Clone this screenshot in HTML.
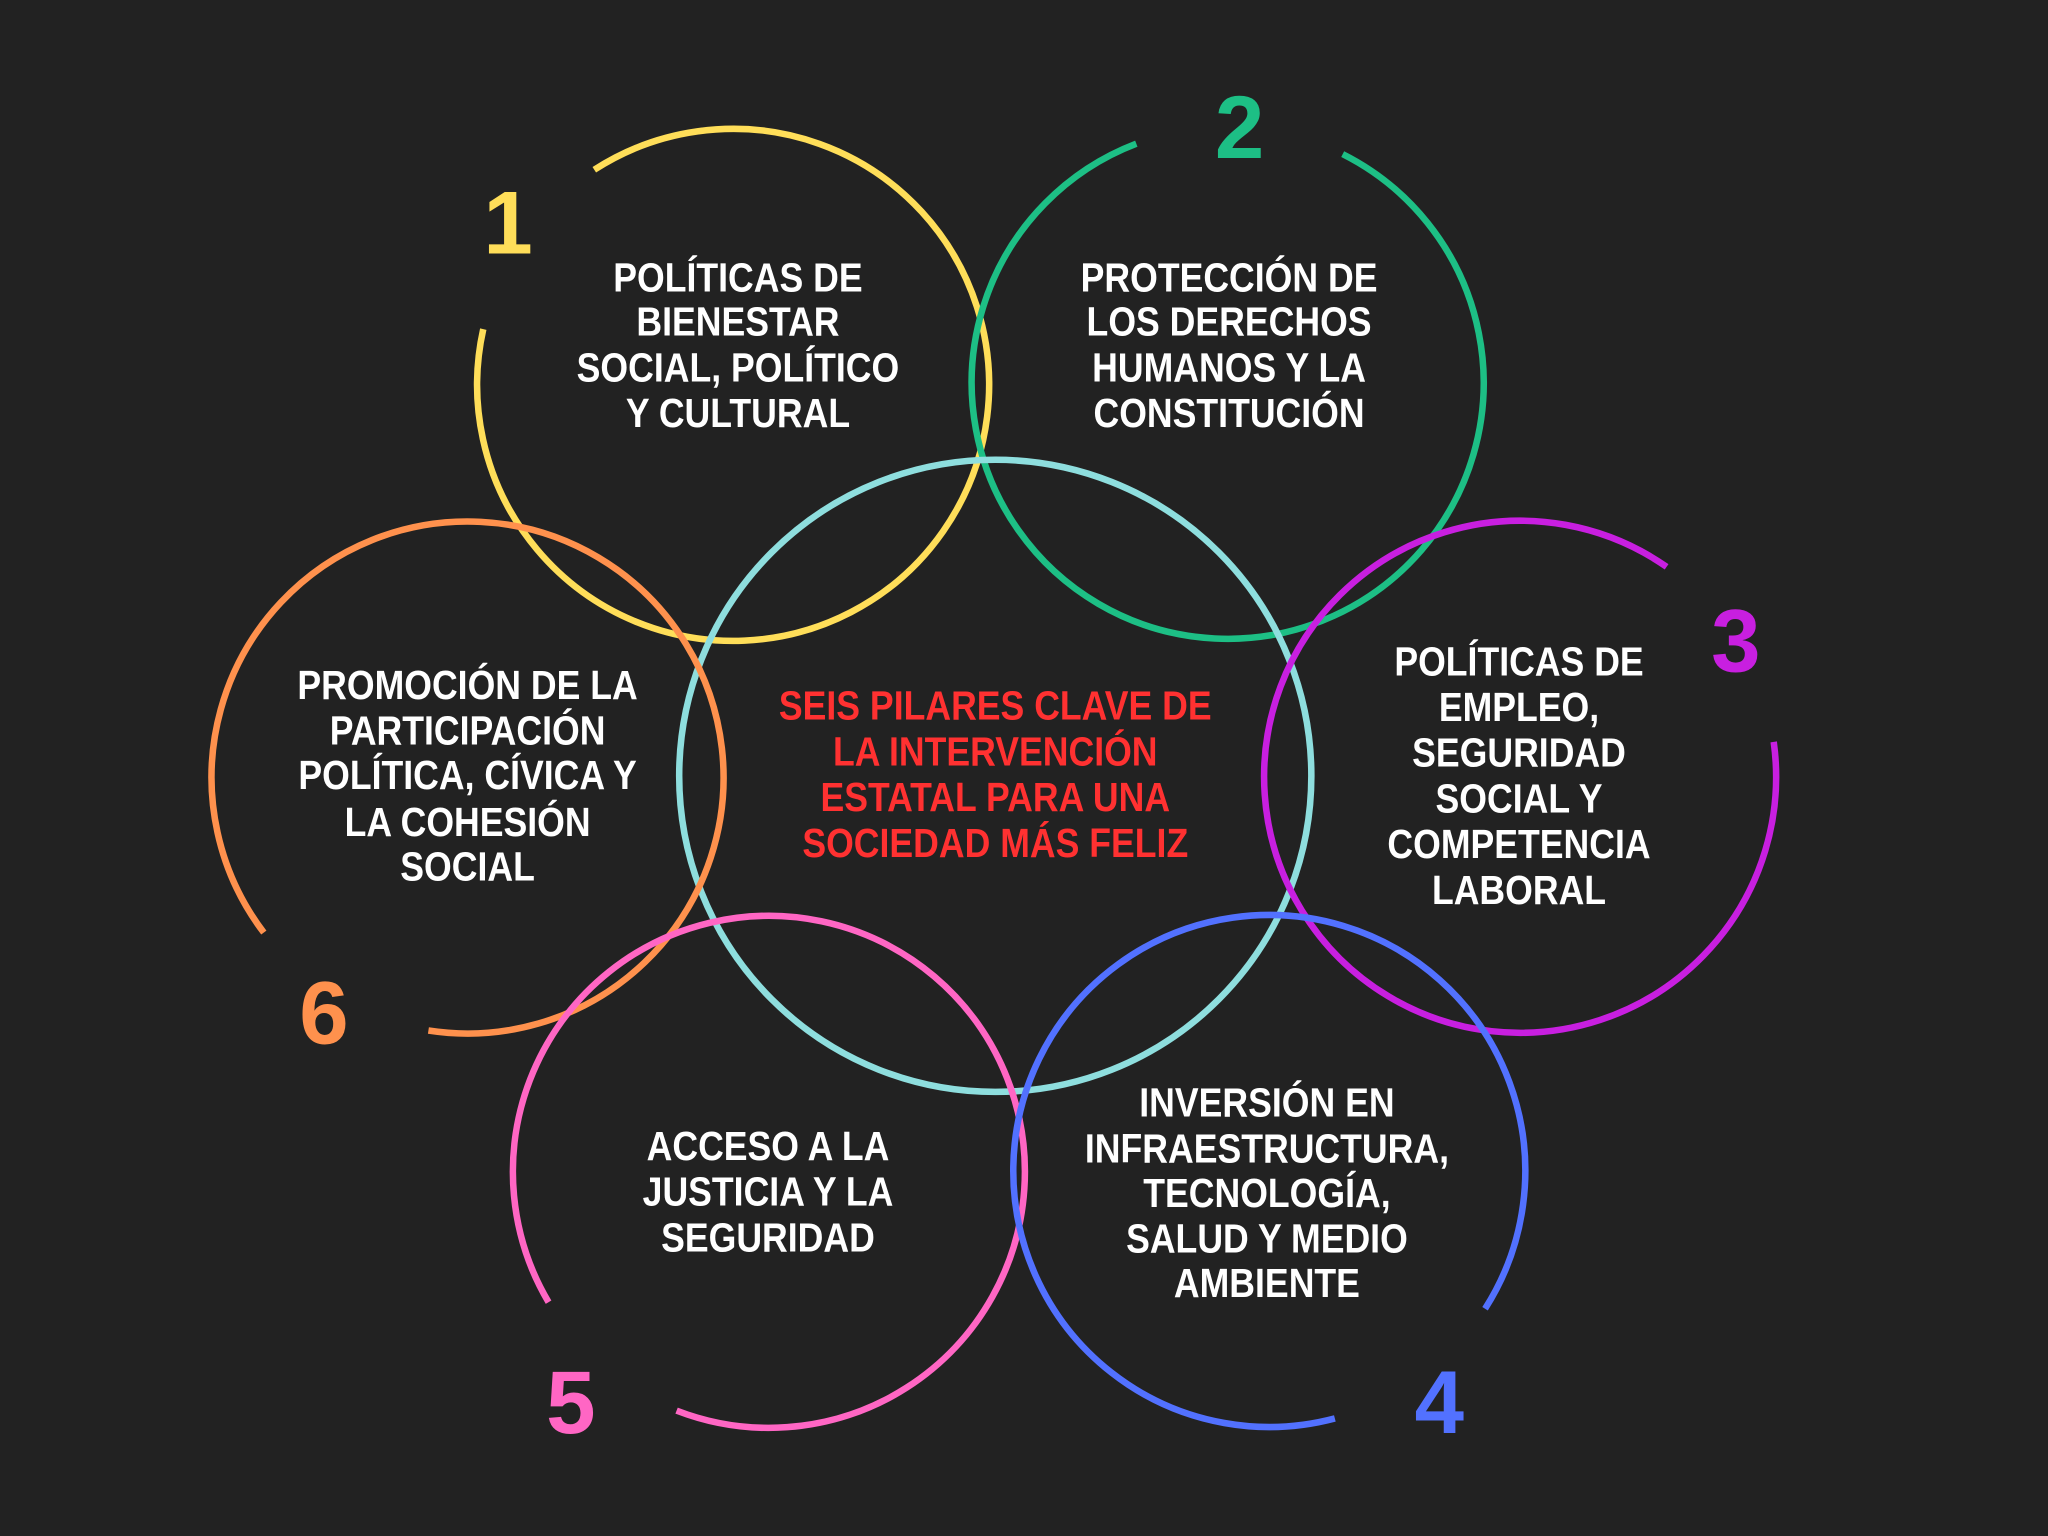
<!DOCTYPE html>
<html><head><meta charset="utf-8"><style>
html,body{margin:0;padding:0;background:#222222;}
svg{display:block;}
text{font-family:"Liberation Sans Narrow","Liberation Sans",sans-serif;font-weight:bold;text-anchor:middle;}
.t{fill:#ffffff;font-size:31px;}
.n{font-size:68px;}
</style></head><body>
<svg width="2048" height="1536" viewBox="0 0 1568 1176" preserveAspectRatio="none" xmlns="http://www.w3.org/2000/svg">
<rect width="1568" height="1176" fill="#222222"/>
<g fill="none" stroke-width="5">
<path d="M455,130 A196,196 0 1 1 370,252" stroke="#FFDE59"/>
<path d="M1028,118 A196,196 0 1 1 870,110" stroke="#1DBF85"/>
<circle cx="762" cy="594" r="242" stroke="#8EDEDE"/>
<path d="M1358,568 A196,196 0 1 1 1276,434" stroke="#C81FE0"/>
<path d="M202,714 A196,196 0 1 1 328,789" stroke="#FF914D"/>
<path d="M420,997 A196,196 0 1 1 518,1080" stroke="#FF66C4"/>
<path d="M1022,1086 A196,196 0 1 1 1137,1002" stroke="#5271FF"/>
</g>
<g transform="translate(565,0) scale(0.88,1) translate(-565,0)"><text class="t"><tspan x="565" y="223">POLÍTICAS DE</tspan><tspan x="565" y="257">BIENESTAR</tspan><tspan x="565" y="292">SOCIAL, POLÍTICO</tspan><tspan x="565" y="327">Y CULTURAL</tspan></text></g>
<g transform="translate(941,0) scale(0.88,1) translate(-941,0)"><text class="t"><tspan x="941" y="223">PROTECCIÓN DE</tspan><tspan x="941" y="257">LOS DERECHOS</tspan><tspan x="941" y="292">HUMANOS Y LA</tspan><tspan x="941" y="327">CONSTITUCIÓN</tspan></text></g>
<g transform="translate(1163,0) scale(0.88,1) translate(-1163,0)"><text class="t"><tspan x="1163" y="517">POLÍTICAS DE</tspan><tspan x="1163" y="552">EMPLEO,</tspan><tspan x="1163" y="587">SEGURIDAD</tspan><tspan x="1163" y="622">SOCIAL Y</tspan><tspan x="1163" y="657">COMPETENCIA</tspan><tspan x="1163" y="692">LABORAL</tspan></text></g>
<g transform="translate(358,0) scale(0.88,1) translate(-358,0)"><text class="t"><tspan x="358" y="535">PROMOCIÓN DE LA</tspan><tspan x="358" y="570">PARTICIPACIÓN</tspan><tspan x="358" y="604">POLÍTICA, CÍVICA Y</tspan><tspan x="358" y="640">LA COHESIÓN</tspan><tspan x="358" y="674">SOCIAL</tspan></text></g>
<g transform="translate(762,0) scale(0.88,1) translate(-762,0)"><text class="t" style="fill:#FF3131"><tspan x="762" y="551">SEIS PILARES CLAVE DE</tspan><tspan x="762" y="586">LA INTERVENCIÓN</tspan><tspan x="762" y="621">ESTATAL PARA UNA</tspan><tspan x="762" y="656">SOCIEDAD MÁS FELIZ</tspan></text></g>
<g transform="translate(588,0) scale(0.88,1) translate(-588,0)"><text class="t"><tspan x="588" y="888">ACCESO A LA</tspan><tspan x="588" y="923">JUSTICIA Y LA</tspan><tspan x="588" y="958">SEGURIDAD</tspan></text></g>
<g transform="translate(970,0) scale(0.88,1) translate(-970,0)"><text class="t"><tspan x="970" y="855">INVERSIÓN EN</tspan><tspan x="970" y="890">INFRAESTRUCTURA,</tspan><tspan x="970" y="924">TECNOLOGÍA,</tspan><tspan x="970" y="959">SALUD Y MEDIO</tspan><tspan x="970" y="993">AMBIENTE</tspan></text></g>
<text class="n" x="389" y="194" fill="#FFDE59">1</text>
<text class="n" x="949" y="121" fill="#1DBF85">2</text>
<text class="n" x="1329" y="514" fill="#C81FE0">3</text>
<text class="n" x="1102" y="1097" fill="#5271FF">4</text>
<text class="n" x="437" y="1097" fill="#FF66C4">5</text>
<text class="n" x="248" y="799" fill="#FF914D">6</text>
</svg>
</body></html>
